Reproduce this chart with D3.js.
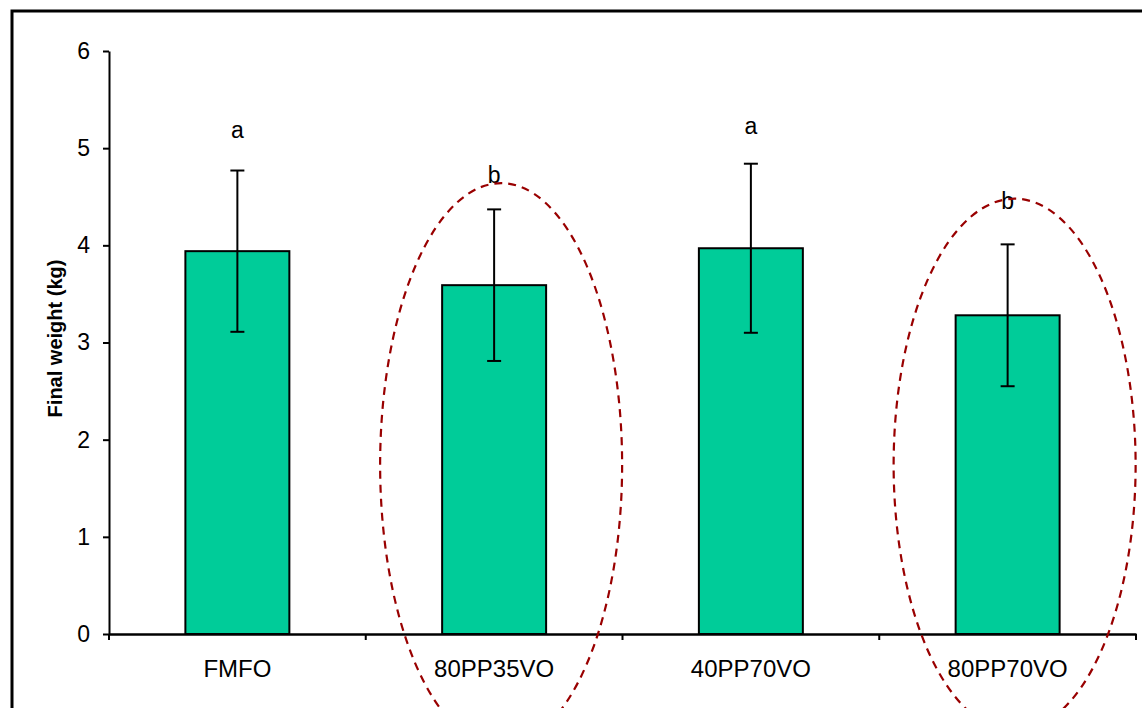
<!DOCTYPE html>
<html>
<head>
<meta charset="utf-8">
<script src="https://cdnjs.cloudflare.com/ajax/libs/d3/7.8.5/d3.min.js"></script>
<style>
  body { margin: 0; background: #fff; }
  svg { display: block; font-family: "Liberation Sans", Arial, sans-serif; }
</style>
</head>
<body>
<svg id="chart" width="1142" height="708"></svg>
<script>
const categories = ['FMFO', '80PP35VO', '40PP70VO', '80PP70VO'];
const means = [3.94, 3.59, 3.97, 3.28];
const errors = [0.83, 0.78, 0.87, 0.73];
const letters = ['a', 'b', 'a', 'b'];
const letterValues = [5.1, 4.64, 5.15, 4.37];
const yTicks = [0, 1, 2, 3, 4, 5, 6];
// dashed ellipses round the PP-diet groups: [category, top value, bottom value]
const ellipses = [['80PP35VO', 4.64, -1.16], ['80PP70VO', 4.48, -1.0]];

const svg = d3.select('#chart');
const margin = { left: 109, top: 51, right: 6, bottom: 74 };
const width = 1142 - margin.left - margin.right;
const height = 708 - margin.top - margin.bottom;
const font = '"Liberation Sans", Arial, sans-serif';

// outer frame
svg.append('rect')
  .attr('x', 12).attr('y', 11)
  .attr('width', 1160).attr('height', 720)
  .attr('fill', 'none').attr('stroke', '#000').attr('stroke-width', 3);

const g = svg.append('g').attr('transform', `translate(${margin.left},${margin.top})`);

const x = d3.scaleBand().domain(categories).range([0, width]).paddingInner(0.595).paddingOuter(0.2975);
const xOuter = d3.scaleBand().domain(categories).range([0, width]);
const y = d3.scaleLinear().domain([0, 6]).range([height, 0]);

// bars
g.selectAll('.bar').data(categories).enter().append('rect')
  .attr('class', 'bar')
  .attr('x', (d) => x(d))
  .attr('y', (d, i) => y(means[i]))
  .attr('width', x.bandwidth())
  .attr('height', (d, i) => y(0) - y(means[i]))
  .attr('fill', '#00CC99')
  .attr('stroke', '#000')
  .attr('stroke-width', 2);

// error bars
const cx = (d) => x(d) + x.bandwidth() / 2;
const err = g.selectAll('.err').data(categories).enter().append('g').attr('class', 'err')
  .attr('stroke', '#000').attr('stroke-width', 2);
err.append('line')
  .attr('x1', cx).attr('x2', cx)
  .attr('y1', (d, i) => y(means[i] + errors[i]))
  .attr('y2', (d, i) => y(means[i] - errors[i]));
err.append('line')
  .attr('x1', (d) => cx(d) - 7).attr('x2', (d) => cx(d) + 7)
  .attr('y1', (d, i) => y(means[i] + errors[i]))
  .attr('y2', (d, i) => y(means[i] + errors[i]));
err.append('line')
  .attr('x1', (d) => cx(d) - 7).attr('x2', (d) => cx(d) + 7)
  .attr('y1', (d, i) => y(means[i] - errors[i]))
  .attr('y2', (d, i) => y(means[i] - errors[i]));

// significance letters
g.selectAll('.letter').data(categories).enter().append('text')
  .attr('class', 'letter')
  .attr('x', cx)
  .attr('y', (d, i) => y(letterValues[i]))
  .attr('text-anchor', 'middle')
  .attr('font-size', 23)
  .text((d, i) => letters[i]);

// y axis
const yAxis = g.append('g')
  .call(d3.axisLeft(y).tickValues(yTicks).tickFormat(d3.format('d'))
    .tickSize(6).tickSizeOuter(0).tickPadding(13));
yAxis.select('.domain').attr('stroke-width', 2);
yAxis.selectAll('.tick line').attr('stroke-width', 2);
yAxis.selectAll('text').attr('font-size', 23).attr('fill', '#000').attr('font-family', font);

// x axis
const xAxis = g.append('g').attr('transform', `translate(0,${height})`)
  .call(d3.axisBottom(xOuter).tickSize(0).tickPadding(26));
xAxis.select('.domain').attr('stroke-width', 2.5);
xAxis.selectAll('text').attr('font-size', 24).attr('fill', '#000').attr('font-family', font);
g.selectAll('.xtick').data(d3.range(categories.length + 1)).enter().append('line')
  .attr('class', 'xtick')
  .attr('x1', (i) => i * xOuter.step()).attr('x2', (i) => i * xOuter.step())
  .attr('y1', height).attr('y2', height + 6)
  .attr('stroke', '#000').attr('stroke-width', 2);

// y label
svg.append('text')
  .attr('transform', `translate(62,${margin.top + height / 2 - 4}) rotate(-90)`)
  .attr('text-anchor', 'middle')
  .attr('font-size', 20)
  .attr('font-weight', 'bold')
  .text('Final weight (kg)');

// dashed ellipses
g.selectAll('.ring').data(ellipses).enter().append('ellipse')
  .attr('class', 'ring')
  .attr('cx', (d) => cx(d[0]) + 7)
  .attr('cy', (d) => (y(d[1]) + y(d[2])) / 2)
  .attr('rx', 121)
  .attr('ry', (d) => (y(d[2]) - y(d[1])) / 2)
  .attr('fill', 'none')
  .attr('stroke', '#990000')
  .attr('stroke-width', 2.2)
  .attr('stroke-dasharray', '8,6');
</script>
</body>
</html>
